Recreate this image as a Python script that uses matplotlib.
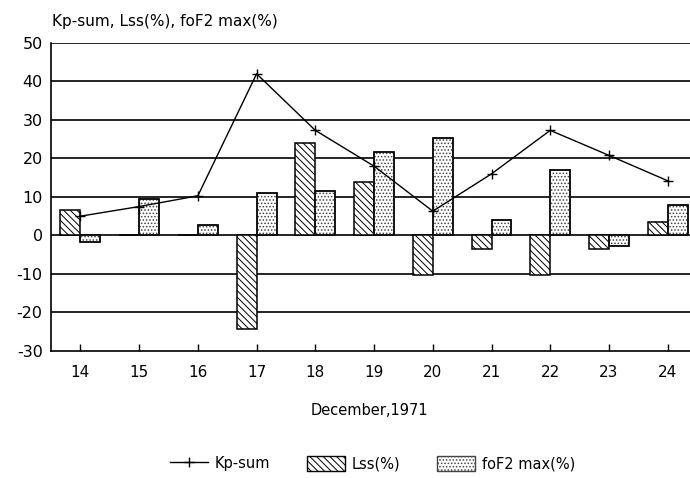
import matplotlib
matplotlib.use("Agg")
import matplotlib.pyplot as plt
import numpy as np
from matplotlib.lines import Line2D
from matplotlib.patches import Patch

days = [14, 15, 16, 17, 18, 19, 20, 21, 22, 23, 24]
kp_sum = [5, 7.5, 10.3, 42, 27.3, 18, 6.3, 16, 27.3, 20.8, 14.2]
lss = [6.7, 0, 0, -24.3, 24, 13.8, -10.4, -3.5, -10.4, -3.5, 3.4]
fof2 = [-1.6, 9.4, 2.6, 10.9, 11.6, 21.6, 25.3, 4.1, 16.9, -2.7, 7.8]

plt.rcParams['font.family'] = ['DejaVu Sans']
plt.rcParams['axes.unicode_minus'] = False
plt.rcParams['hatch.linewidth'] = 0.7

fig = plt.figure(figsize=(6.9, 4.78), dpi=100)
ax = fig.add_axes([0.074, 0.266, 0.926, 0.644])

x = np.array(days, dtype=float)
w = 0.34
lss_hatch = '\\\\\\\\\\'
fof2_hatch = '.....'
ax.bar(x - w / 2, lss, width=w, facecolor='white', edgecolor='black',
       linewidth=1.1, hatch=lss_hatch, zorder=2)
ax.bar(x + w / 2, fof2, width=w, facecolor='white', edgecolor='#444444',
       linewidth=1.1, hatch=fof2_hatch, zorder=2)
# redraw edges in black for fof2 bars
ax.bar(x + w / 2, fof2, width=w, facecolor='none', edgecolor='black',
       linewidth=1.1, zorder=2.1)
ax.plot(x, kp_sum, color='black', linewidth=1.0, marker='+', markersize=7,
        markeredgewidth=1.0, zorder=3)

ax.set_xlim(13.5, 24.38)
ax.set_ylim(-30, 50)
ax.set_yticks(np.arange(-30, 51, 10))
ax.set_xticks(days)
ax.set_xticklabels([str(d) for d in days])
for yv in range(-20, 51, 10):
    ax.axhline(yv, color='black', linewidth=1.2, zorder=1)

for s in ['top', 'right']:
    ax.spines[s].set_visible(False)
ax.spines['left'].set_linewidth(1.2)
ax.spines['bottom'].set_linewidth(1.2)
ax.tick_params(axis='x', direction='in', length=5, width=1, pad=10, labelsize=11)
ax.tick_params(axis='y', length=0, pad=6, labelsize=11.5)

fig.text(0.075, 0.955, 'Kp-sum, Lss(%), foF2 max(%)', fontsize=11,
         ha='left', va='center')
fig.text(0.536, 0.142, 'December,1971', fontsize=10.5, ha='center', va='center')

handles = [
    Line2D([0], [0], color='black', linewidth=1.0, marker='+', markersize=7),
    Patch(facecolor='white', edgecolor='black', hatch=lss_hatch),
    Patch(facecolor='white', edgecolor='#444444', hatch=fof2_hatch),
]
labels = ['Kp-sum', 'Lss(%)', 'foF2 max(%)']
fig.legend(handles, labels, loc='center', bbox_to_anchor=(0.54, 0.03), ncol=3,
           frameon=False, fontsize=10.5, handlelength=2.6, handleheight=1.2,
           handletextpad=0.5, columnspacing=2.5)

fig.savefig('out.png', dpi=100, facecolor='white')
